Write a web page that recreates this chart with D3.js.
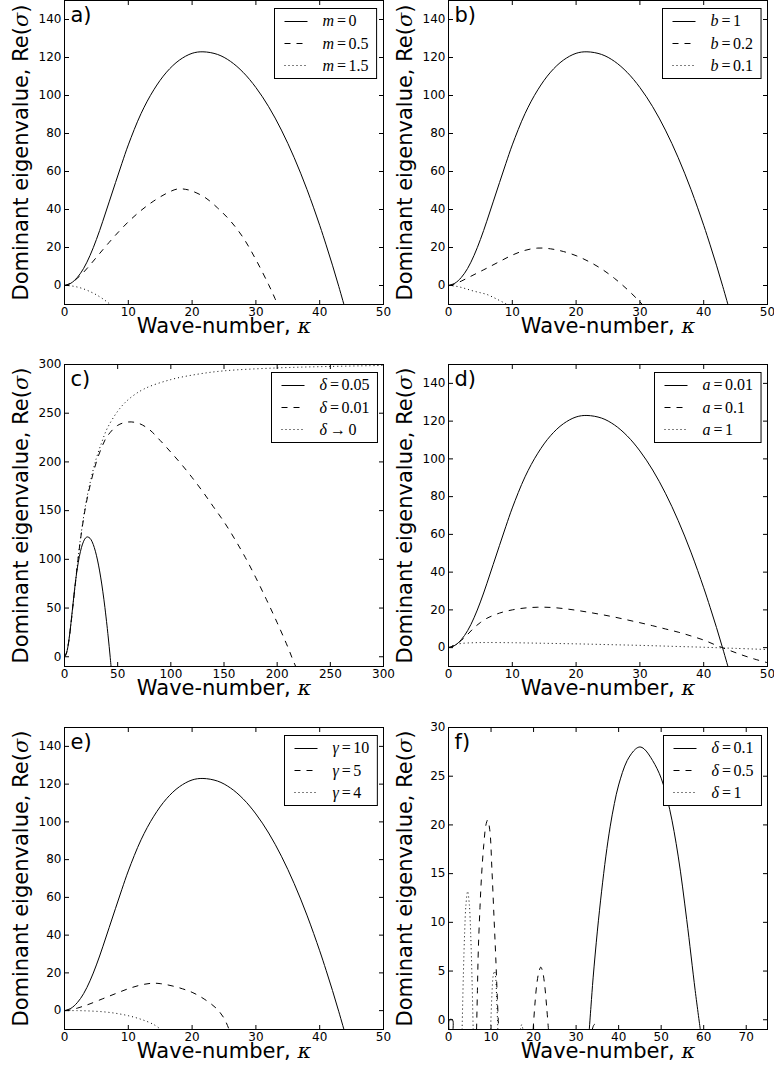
<!DOCTYPE html>
<html>
<head>
<meta charset="utf-8">
<script src="https://cdn.jsdelivr.net/npm/d3@7"></script>
<style>
  body { margin: 0; background: #fff; }
</style>
</head>
<body>
<script>
// Dispersion curves: dominant eigenvalue vs wave-number, six panels

// the reference solid curve (same in a, b, c, d, e)
var baseK = [0, 1, 2, 3, 4, 5, 6, 7, 8, 9, 10, 12, 14, 16, 18, 20, 21.7, 24, 26, 28, 30, 32, 34, 36, 38, 40, 41, 42, 43, 44];
var baseV = [0, 1.2, 4.2, 9, 15.8, 24.2, 33.8, 44, 54.2, 64.3, 74, 90.5, 103, 112.3, 118.6, 122.2, 123, 121.6, 118, 112.2, 104.2, 94.1, 81.8, 67.3, 50.6, 31.7, 21.4, 10.7, -0.6, -12.4];

// panel a
var aDashK = [0, 1, 2, 3, 4, 5, 6, 7, 8, 10, 12, 14, 16, 17.7, 19, 20, 22, 24, 26, 28, 30, 32, 33, 34];
var aDashV = [0, 1.2, 3.8, 7, 10.8, 14.8, 18.8, 22.7, 26.5, 33.5, 39.5, 44.5, 48.5, 50.8, 50.6, 49.7, 46.4, 40.8, 34, 25.2, 13.6, 0.4, -6.9, -15];
var aDotK = [0, 1, 2, 3, 4, 5, 6, 7, 8];
var aDotV = [0, -0.2, -0.8, -1.8, -3.2, -4.9, -7, -9.5, -12.5];

// panel b
var bDashK = [0, 1, 2, 3, 4, 5, 6, 8, 10, 12, 14, 16, 18, 20, 22, 24, 26, 28, 30, 31];
var bDashV = [0, 0.8, 2.3, 4, 5.7, 7.4, 9.1, 12.6, 16, 18.5, 19.7, 19.3, 17.9, 15.7, 12.6, 8.7, 3.8, -2, -8.6, -12.3];
var bDotK = [0, 1, 2, 3, 4, 5, 6, 7, 8, 9, 10];
var bDotV = [0, -0.3, -1, -2, -3, -3.8, -4.7, -6.2, -7.9, -9.6, -11.5];

// panel c
var cDashK = [0, 2, 4, 6, 8, 10, 12, 15, 20, 25, 30, 35, 40, 50, 60, 70, 80, 90, 100, 110, 120, 130, 140, 150, 160, 170, 180, 190, 200, 210, 214, 218];
var cDashV = [0, 4.5, 16, 33, 53, 73, 93, 120, 155, 180, 200, 215, 226, 237.5, 241, 239.5, 233, 222, 210, 197.5, 184, 169.5, 154, 138.5, 121, 102, 81, 58.5, 35, 10, -1, -11.5];
var cDotK = [0, 2, 4, 6, 8, 10, 12, 15, 20, 25, 30, 35, 40, 50, 60, 75, 100, 125, 150, 200, 250, 300];
var cDotV = [0, 4.5, 16, 33, 53, 73, 93, 121, 157, 183, 204, 220, 234, 252, 264, 275, 284.5, 290, 293.5, 296.5, 298, 299];

// panel d
var dDashK = [0, 1, 2, 3, 4, 5, 6, 8, 10, 12, 14, 16, 18, 20, 22, 24, 26, 28, 30, 32, 34, 36, 38, 40, 42, 44, 46, 48, 50];
var dDashV = [0, 1.2, 3.8, 7, 10.5, 13.3, 15.5, 18.3, 20, 21, 21.4, 21.3, 20.7, 19.8, 18.7, 17.5, 16.2, 14.7, 13.2, 11.6, 9.9, 8.2, 6.2, 4, 1.2, -1.4, -3.9, -6.1, -8];
var dDotK = [0, 1, 2, 4, 6, 10, 15, 20, 25, 30, 35, 40, 45, 50];
var dDotV = [0, 1.5, 2.2, 2.6, 2.7, 2.6, 2.3, 2, 1.6, 1.2, 0.7, 0.2, -0.4, -1];

// panel e
var eDashK = [0, 1, 2, 3, 4, 6, 8, 10, 12, 13.7, 15, 17, 19, 20, 21, 22, 23, 24, 25, 25.8, 26.2];
var eDashV = [0, 0.4, 1.3, 2.4, 3.6, 6.3, 9, 11.6, 13.6, 14.5, 14.3, 13, 11, 9.7, 8, 5.9, 3.5, 0.5, -4, -10, -13.5];
var eDotK = [0, 2, 4, 6, 8, 10, 12, 14, 15.3];
var eDotV = [0, 0, -0.2, -0.6, -1.4, -2.7, -4.6, -7.4, -10.5];

// panel f (null breaks the separate lobes)
var fSolidK = [0.1, 0.15, 0.5, 1.0, 1.05, null, 33.1, 33.5, 34, 35, 36, 37, 38, 39, 40, 42, 44, 45, 46, 48, 50, 52, 54, 56, 58, 59.2];
var fSolidV = [-1, -0.05, 0.05, -0.05, -1, null, -1, 1.4, 4.3, 9.1, 13.2, 16.8, 19.8, 22.2, 24.1, 26.6, 27.8, 28, 27.8, 26.6, 24.8, 21.6, 16.8, 10.3, 3, -1];
var fDashK = [6.6, 6.8, 7.0, 7.4, 7.8, 8.3, 8.8, 9.2, 9.7, 10.2, 10.7, 11.1, 11.5, 11.8, null, 19.9, 20.3, 20.8, 21.3, 21.7, 22.1, 22.6, 23.1, 23.5, null, 33.8, 34.1, 34.4, 34.7, 35];
var fDashV = [-1, 3, 7, 11.5, 15, 18, 20, 20.5, 19.5, 15.5, 10.5, 6.5, 2, -1, null, -1, 1.5, 3.8, 5, 5.4, 5, 3.6, 1.2, -1, null, -1, -0.6, -0.45, -0.6, -1];
var fDotK = [3.2, 3.5, 3.8, 4.1, 4.5, 4.9, 5.2, 5.5, 5.8, null, 9.9, 10.2, 10.5, 10.8, 11.1, 11.3, 11.6, null, 16.9, 17.2, 17.5];
var fDotV = [-1, 4.7, 9, 11.8, 13.2, 11.8, 9, 4.7, -1, null, -1, 2.5, 4.5, 5, 4.3, 2.5, -1, null, -1, -0.5, -1];

// tick labels
var ticks0to50 = [0, 10, 20, 30, 40, 50];
var ticks0to300 = [0, 50, 100, 150, 200, 250, 300];
var ticks0to70 = [0, 10, 20, 30, 40, 50, 60, 70];
var ticks0to140 = [0, 20, 40, 60, 80, 100, 120, 140];
var ticks0to30 = [0, 5, 10, 15, 20, 25, 30];

// legend entries
var aLegVar = ["m", "m", "m"], aLegVal = ["0", "0.5", "1.5"];
var bLegVar = ["b", "b", "b"], bLegVal = ["1", "0.2", "0.1"];
var cLegVar = ["δ", "δ", "δ"], cLegVal = ["0.05", "0.01", "0"], cLegOp = ["=", "=", "→"];
var dLegVar = ["a", "a", "a"], dLegVal = ["0.01", "0.1", "1"];
var eLegVar = ["γ", "γ", "γ"], eLegVal = ["10", "5", "4"];
var fLegVar = ["δ", "δ", "δ"], fLegVal = ["0.1", "0.5", "1"];
var eqOps = ["=", "=", "="];

// layout
var w = 774;
var h = 1076;
var colX = [[64.5, 383.5], [448.5, 767.5]];
var rowY = [[0.5, 304.5], [364.5, 666.5], [727.5, 1029.5]];
var tickLen = 4.5;
var dashStyles = [null, "6,6", "1,3"];

var panels = [
  {label: "a)", col: 0, row: 0, xDom: [0, 50], yDom: [-10, 150], xTicks: ticks0to50, yTicks: ticks0to140,
   series: [[baseK, baseV], [aDashK, aDashV], [aDotK, aDotV]], legVar: aLegVar, legVal: aLegVal, legOp: eqOps},
  {label: "b)", col: 1, row: 0, xDom: [0, 50], yDom: [-10, 150], xTicks: ticks0to50, yTicks: ticks0to140,
   series: [[baseK, baseV], [bDashK, bDashV], [bDotK, bDotV]], legVar: bLegVar, legVal: bLegVal, legOp: eqOps},
  {label: "c)", col: 0, row: 1, xDom: [0, 300], yDom: [-10, 300], xTicks: ticks0to300, yTicks: ticks0to300,
   series: [[baseK, baseV], [cDashK, cDashV], [cDotK, cDotV]], legVar: cLegVar, legVal: cLegVal, legOp: cLegOp},
  {label: "d)", col: 1, row: 1, xDom: [0, 50], yDom: [-10, 150], xTicks: ticks0to50, yTicks: ticks0to140,
   series: [[baseK, baseV], [dDashK, dDashV], [dDotK, dDotV]], legVar: dLegVar, legVal: dLegVal, legOp: eqOps},
  {label: "e)", col: 0, row: 2, xDom: [0, 50], yDom: [-10, 150], xTicks: ticks0to50, yTicks: ticks0to140,
   series: [[baseK, baseV], [eDashK, eDashV], [eDotK, eDotV]], legVar: eLegVar, legVal: eLegVal, legOp: eqOps},
  {label: "f)", col: 1, row: 2, xDom: [0, 75], yDom: [-1, 30], xTicks: ticks0to70, yTicks: ticks0to30,
   series: [[fSolidK, fSolidV], [fDashK, fDashV], [fDotK, fDotV]], legVar: fLegVar, legVal: fLegVal, legOp: eqOps}
];

var svg = d3.select("body")
            .append("svg")
            .attr("width", w)
            .attr("height", h);

panels.forEach(function(p, i) {
  drawPanel(p, i);
});

function styleAxis(g) {
  g.select(".domain").remove();
  g.attr("font-family", "'DejaVu Sans', sans-serif")
   .attr("font-size", 12)
   .attr("fill", "#000");
  g.selectAll("line").attr("stroke", "#000").attr("stroke-width", 1);
  g.selectAll("text").attr("fill", "#000");
}

function drawPanel(p, i) {
  var x0 = colX[p.col][0], x1 = colX[p.col][1];
  var y0 = rowY[p.row][0], y1 = rowY[p.row][1];

  var xScale = d3.scaleLinear().domain(p.xDom).range([x0, x1]);
  var yScale = d3.scaleLinear().domain(p.yDom).range([y1, y0]);

  var g = svg.append("g");

  g.append("clipPath")
   .attr("id", "clip" + i)
   .append("rect")
   .attr("x", x0).attr("y", y0)
   .attr("width", x1 - x0).attr("height", y1 - y0);

  // curves
  var line = d3.line()
               .defined(function(d) { return d[0] != null && d[1] != null; })
               .x(function(d) { return xScale(d[0]); })
               .y(function(d) { return yScale(d[1]); })
               .curve(d3.curveCatmullRom.alpha(0.5));

  p.series.forEach(function(s, j) {
    var pts = s[0].map(function(k, n) { return [k, s[1][n]]; });
    g.append("path")
     .attr("d", line(pts))
     .attr("clip-path", "url(#clip" + i + ")")
     .attr("fill", "none")
     .attr("stroke", "#000")
     .attr("stroke-width", 1)
     .attr("stroke-dasharray", dashStyles[j]);
  });

  // axes with inward ticks on all four sides
  g.append("g")
   .attr("transform", "translate(0," + y1 + ")")
   .call(d3.axisBottom(xScale).tickValues(p.xTicks).tickSize(-tickLen).tickPadding(3).offset(0).tickFormat(d3.format("d")))
   .call(styleAxis);
  g.append("g")
   .attr("transform", "translate(0," + y0 + ")")
   .call(d3.axisTop(xScale).tickValues(p.xTicks).tickSize(-tickLen).offset(0).tickFormat(""))
   .call(styleAxis);
  g.append("g")
   .attr("transform", "translate(" + x0 + ",0)")
   .call(d3.axisLeft(yScale).tickValues(p.yTicks).tickSize(-tickLen).tickPadding(3).offset(0).tickFormat(d3.format("d")))
   .call(styleAxis);
  g.append("g")
   .attr("transform", "translate(" + x1 + ",0)")
   .call(d3.axisRight(yScale).tickValues(p.yTicks).tickSize(-tickLen).offset(0).tickFormat(""))
   .call(styleAxis);

  // frame
  g.append("rect")
   .attr("x", x0).attr("y", y0)
   .attr("width", x1 - x0).attr("height", y1 - y0)
   .attr("fill", "none")
   .attr("stroke", "#000")
   .attr("stroke-width", 1);

  // panel letter
  g.append("text")
   .attr("x", x0 + 6)
   .attr("y", y0 + 21)
   .attr("font-family", "'DejaVu Sans', sans-serif")
   .attr("font-size", 21)
   .text(p.label);

  // axis titles
  var xt = g.append("text")
            .attr("x", (x0 + x1) / 2)
            .attr("y", y1 + 28)
            .attr("text-anchor", "middle")
            .attr("font-family", "'DejaVu Sans', sans-serif")
            .attr("font-size", 21)
            .text("Wave-number, ");
  xt.append("tspan")
    .attr("font-family", "'DejaVu Serif', serif")
    .attr("font-style", "italic")
    .text("κ");

  var yt = g.append("text")
            .attr("transform", "translate(" + (x0 - 37) + "," + ((y0 + y1) / 2) + ") rotate(-90)")
            .attr("text-anchor", "middle")
            .attr("font-family", "'DejaVu Sans', sans-serif")
            .attr("font-size", 21)
            .text("Dominant eigenvalue, Re(");
  yt.append("tspan")
    .attr("font-family", "'DejaVu Serif', serif")
    .attr("font-style", "italic")
    .text("σ");
  yt.append("tspan").text(")");

  // legend
  var leg = g.append("g");
  var box = leg.append("rect")
               .attr("fill", "#fff")
               .attr("stroke", "#000")
               .attr("stroke-width", 1);
  var rowH = 22.2;
  var maxW = 0;
  var texts = [];
  p.legVar.forEach(function(v, j) {
    var t = leg.append("text")
               .attr("font-family", "'Liberation Serif', serif")
               .attr("font-size", 16);
    t.append("tspan").attr("font-style", "italic").text(v);
    t.append("tspan").attr("dx", 3).text(p.legOp[j]);
    t.append("tspan").attr("dx", 2.5).text(p.legVal[j]);
    maxW = Math.max(maxW, t.node().getComputedTextLength() + 5.5);
    texts.push(t);
  });
  var bw = 48 + maxW + 8;
  var bh = 70;
  var bx = Math.round(x1 - 7 - bw) + 0.5;
  var by = y0 + 8;
  box.attr("x", bx).attr("y", by).attr("width", bw).attr("height", bh);
  texts.forEach(function(t, j) {
    var cy = by + 12.4 + j * rowH;
    t.attr("x", bx + 48).attr("y", cy + 5.5);
    leg.append("line")
       .attr("x1", bx + 10).attr("x2", bx + 33)
       .attr("y1", Math.round(cy) + 0.5).attr("y2", Math.round(cy) + 0.5)
       .attr("stroke", "#000")
       .attr("stroke-width", 1)
       .attr("stroke-dasharray", dashStyles[j]);
  });
}
</script>
</body>
</html>
